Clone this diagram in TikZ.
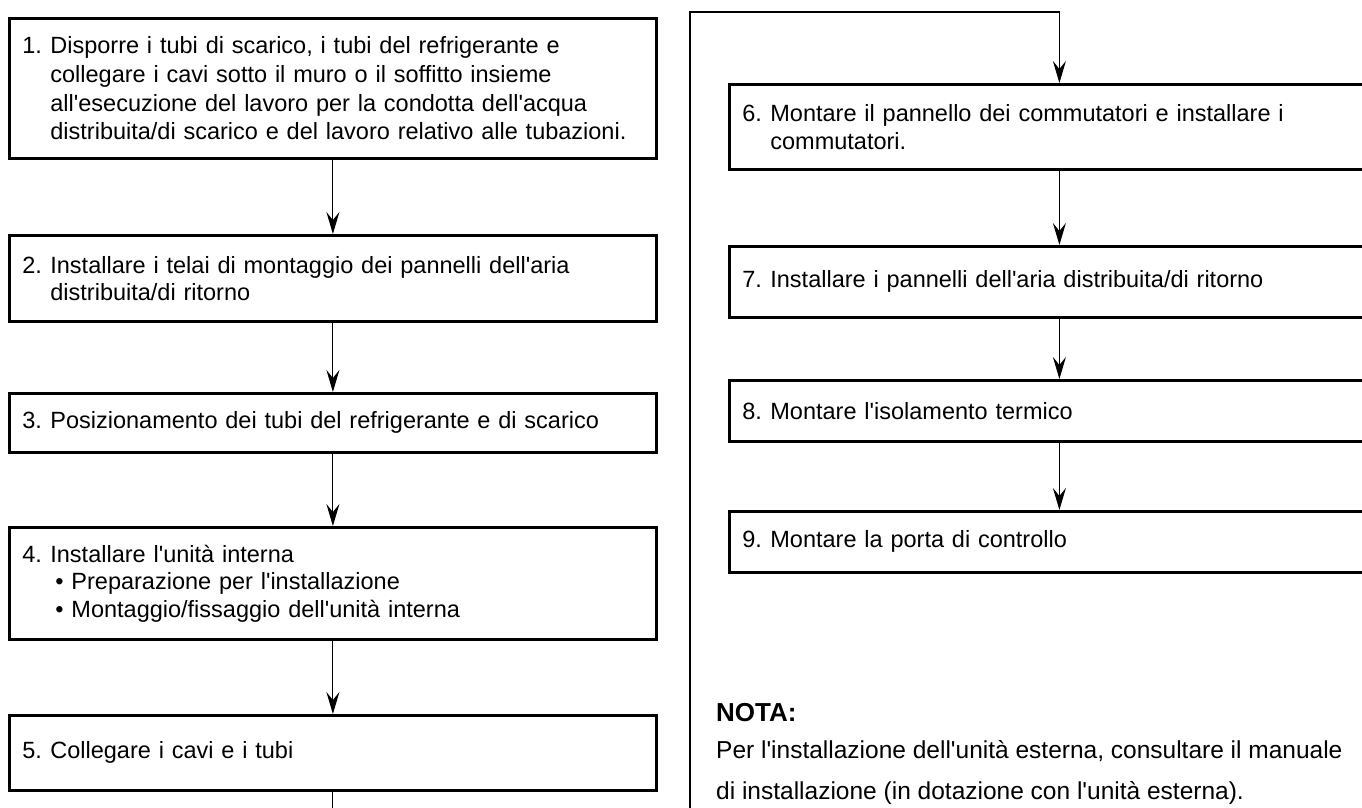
\documentclass[tikz,border=0pt]{standalone}
\usepackage{fontspec}
\setmainfont{Liberation Sans}
\usetikzlibrary{arrows.meta}
\newcommand{\apo}{\textquotesingle}
\newcommand{\numlab}[1]{\makebox[28pt][l]{#1}}
\begin{document}
\begin{tikzpicture}[x=1pt,y=-1pt,
  stepbox/.style={draw, line width=2.8pt, rectangle, anchor=north west,
    inner xsep=13pt, inner ysep=0pt, align=left,
    font=\fontsize{23.5}{27.5}\selectfont},
  lbox/.style={stepbox, text width=621pt, minimum width=647pt},
  rbox/.style={stepbox, text width=634pt, minimum width=660pt},
  conn/.style={line width=1.1pt, -{Stealth[length=22pt,width=13pt,inset=8pt]}},
  notestyle/.style={inner sep=0pt, align=left, font=\fontsize{24.5}{41}\selectfont}]
\useasboundingbox (0,0) rectangle (1362,808);
\begin{scope}
\clip (0,0) rectangle (1362,808);
% left column
\node[lbox, minimum height=140pt, font=\fontsize{23.5}{28.7}\selectfont] (b1) at (8,17)
  {\numlab{1.}Disporre i tubi di scarico, i tubi del refrigerante e\\
   \hspace*{28pt}collegare i cavi sotto il muro o il soffitto insieme\\
   \hspace*{28pt}all\apo esecuzione del lavoro per la condotta dell\apo acqua\\
   \hspace*{28pt}distribuita/di scarico e del lavoro relativo alle tubazioni.};
\node[lbox, minimum height=86pt] (b2) at (8,234)
  {\numlab{2.}Installare i telai di montaggio dei pannelli dell\apo aria\\
   \hspace*{28pt}distribuita/di ritorno};
\node[lbox, minimum height=59pt] (b3) at (8,392)
  {\numlab{3.}Posizionamento dei tubi del refrigerante e di scarico};
\node[lbox, minimum height=112pt] (b4) at (8,526)
  {\numlab{4.}Installare l\apo unità interna\\
   \hspace*{33pt}• Preparazione per l\apo installazione\\
   \hspace*{33pt}• Montaggio/fissaggio dell\apo unità interna};
\node[lbox, minimum height=75pt] (b5) at (8,714)
  {\numlab{5.}Collegare i cavi e i tubi};
% right column
\node[rbox, minimum height=85pt] (b6) at (728,83)
  {\numlab{6.}Montare il pannello dei commutatori e installare i\\
   \hspace*{28pt}commutatori.};
\node[rbox, minimum height=71pt] (b7) at (728,245)
  {\numlab{7.}Installare i pannelli dell\apo aria distribuita/di ritorno};
\node[rbox, minimum height=61pt] (b8) at (728,379)
  {\numlab{8.}Montare l\apo isolamento termico};
\node[rbox, minimum height=61pt] (b9) at (728,510)
  {\numlab{9.}Montare la porta di controllo};
% note
\node[notestyle, anchor=west, font=\fontsize{26}{30}\selectfont] (nota) at (716,713) {\textbf{NOTA:}};
\node[notestyle, anchor=north west] (notetext) at (716,740)
  {Per l\apo installazione dell\apo unità esterna, consultare il manuale\\
   di installazione (in dotazione con l\apo unità esterna).};
% connectors
\draw[conn] (b1) -- (b2);
\draw[conn] (b2) -- (b3);
\draw[conn] (b3) -- (b4);
\draw[conn] (b4) -- (b5);
\coordinate (c1) at (b5.south |- 0,840);
\coordinate (c2) at (690,840);
\coordinate (c3) at (690,12);
\draw[conn] (b5.south) -- (c1) -- (c2) -- (c3) -| (b6.north);
\draw[conn] (b6) -- (b7);
\draw[conn] (b7) -- (b8);
\draw[conn] (b8) -- (b9);
\end{scope}
\end{tikzpicture}
\end{document}
